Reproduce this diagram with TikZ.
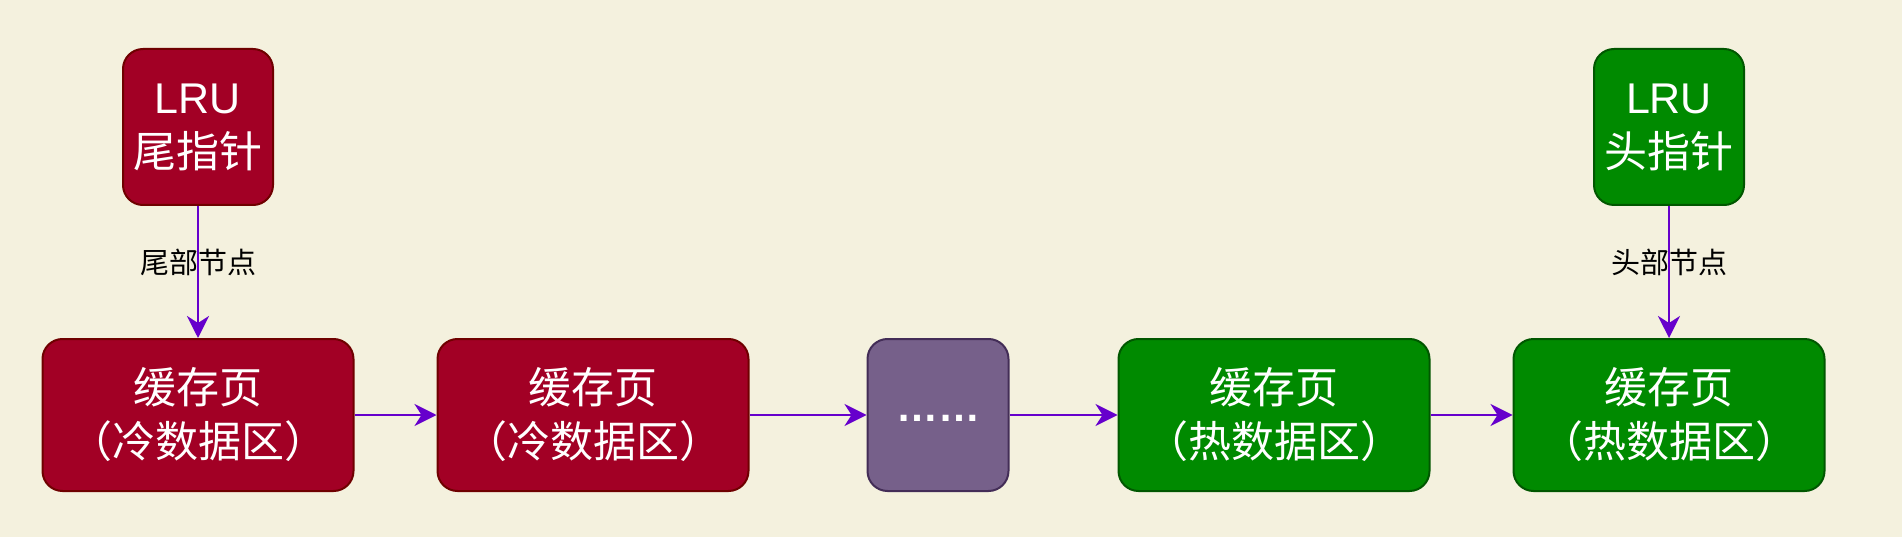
\documentclass[tikz,border=0pt]{standalone}
\usepackage{fontspec}
\setmainfont{Liberation Sans}
\newfontfamily\cjk{Noto Sans CJK SC}
\usetikzlibrary{positioning,arrows.meta}

\definecolor{bgcream}{HTML}{F4F1DE}
\definecolor{coldred}{HTML}{A20025}
\definecolor{coldredline}{HTML}{6F0000}
\definecolor{hotgreen}{HTML}{008A00}
\definecolor{hotgreenline}{HTML}{005700}
\definecolor{gapviolet}{HTML}{76608A}
\definecolor{gapvioletline}{HTML}{432D57}
\definecolor{linkviolet}{HTML}{6600CC}

\begin{document}
\begin{tikzpicture}[
    x=1pt, y=-1pt,
    node distance=82pt,
    page/.style={rectangle, draw, line width=2pt, rounded corners=20pt, minimum width=311pt, minimum height=152pt, align=center, text=white, inner sep=0pt, font=\fontsize{43}{54}\selectfont\cjk},
    coldpage/.style={page, fill=coldred, draw=coldredline},
    hotpage/.style={page, fill=hotgreen, draw=hotgreenline},
    gapbox/.style={page, minimum width=141pt, fill=gapviolet, draw=gapvioletline, font=\fontsize{42}{53}\selectfont\rmfamily\bfseries},
    pointer/.style={page, minimum width=150pt, minimum height=156pt},
    link/.style={-{Stealth[length=22pt,width=22pt,inset=7pt]}, line width=2.5pt, draw=linkviolet},
    tag/.style={text=black, inner sep=0pt, font=\fontsize{29}{35}\selectfont\cjk}
]

    % Background
    \fill[bgcream] (0,0) rectangle (1902,537);

    % Cache pages
    \node[coldpage] (cold1) at (198,415) {缓存页\\（冷数据区）};
    \node[coldpage, right=82pt of cold1] (cold2) {缓存页\\（冷数据区）};
    \node[gapbox, right=117pt of cold2] (gap) {\raisebox{-12pt}{……}};
    \node[hotpage, right=108pt of gap] (hot1) {缓存页\\（热数据区）};
    \node[hotpage, right=82pt of hot1] (hot2) {缓存页\\（热数据区）};

    % Pointers
    \node[pointer, fill=coldred, draw=coldredline, above=132pt of cold1] (tail) {{\rmfamily LRU}\\尾指针};
    \node[pointer, fill=hotgreen, draw=hotgreenline, above=132pt of hot2] (head) {{\rmfamily LRU}\\头指针};

    % Arrows
    \draw[link] (tail) -- node[tag, pos=0.43] {尾部节点} (cold1);
    \draw[link] (head) -- node[tag, pos=0.43] {头部节点} (hot2);
    \draw[link] (cold1) -- (cold2);
    \draw[link] (cold2) -- (gap);
    \draw[link] (gap) -- (hot1);
    \draw[link] (hot1) -- (hot2);

\end{tikzpicture}
\end{document}
